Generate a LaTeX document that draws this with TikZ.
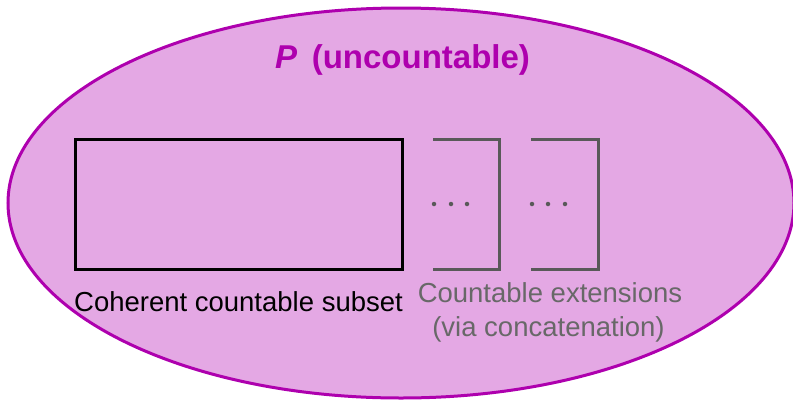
\documentclass[tikz,border=0pt]{standalone}
\usepackage{fontspec}
\setmainfont{Liberation Sans}
\usetikzlibrary{shapes.geometric}
\definecolor{setfill}{HTML}{E4A8E4}
\definecolor{setline}{HTML}{AE00AE}
\definecolor{extgray}{HTML}{595959}
\definecolor{extlabel}{HTML}{686868}
\begin{document}
\begin{tikzpicture}[x=1pt,y=-1pt,
  setlabel/.style={font=\fontsize{33}{37}\selectfont\bfseries, text=setline, inner sep=0pt, anchor=base},
  sublabel/.style={font=\fontsize{27.5}{32}\selectfont, inner sep=0pt, anchor=base},
  extbracket/.style={draw=extgray, line width=3pt},
  dotmark/.style={circle, fill=extgray, inner sep=0pt, minimum size=4.5pt}]
\useasboundingbox (0,0) rectangle (793,400);
% the uncountable set P
\node[ellipse, draw=setline, fill=setfill, line width=3pt,
      minimum width=786pt, minimum height=390pt, inner sep=0pt] (P) at (401,203) {};
\node[setlabel] (title) at (402.5,68) {\textit{P}\, (uncountable)};
% coherent countable subset
\node[draw=black, line width=3pt, minimum width=327pt, minimum height=130pt, inner sep=0pt] (sub) at (238.5,204) {};
\node[sublabel, text=black] (sublab) at (238.5,311) {Coherent countable subset};
% countable extensions, drawn as open brackets
\coordinate (e1a) at (433,139); \coordinate (e1b) at (499,139);
\coordinate (e1c) at (499,269); \coordinate (e1d) at (433,269);
\coordinate (e2a) at (531,139); \coordinate (e2b) at (598,139);
\coordinate (e2c) at (598,269); \coordinate (e2d) at (531,269);
\draw[extbracket] (e1a) -- (e1b) -- (e1c) -- (e1d);
\draw[extbracket] (e2a) -- (e2b) -- (e2c) -- (e2d);
\foreach \x/\n in {434/a,451/b,467/c} \node[dotmark] (d1\n) at (\x,204) {};
\foreach \x/\n in {532/a,548/b,565/c} \node[dotmark] (d2\n) at (\x,204) {};
\node[sublabel, text=extlabel] (extlab) at (550,302) {Countable extensions};
\node[sublabel, text=extlabel] (extvia) at (548.5,336) {(via concatenation)};
\end{tikzpicture}
\end{document}
